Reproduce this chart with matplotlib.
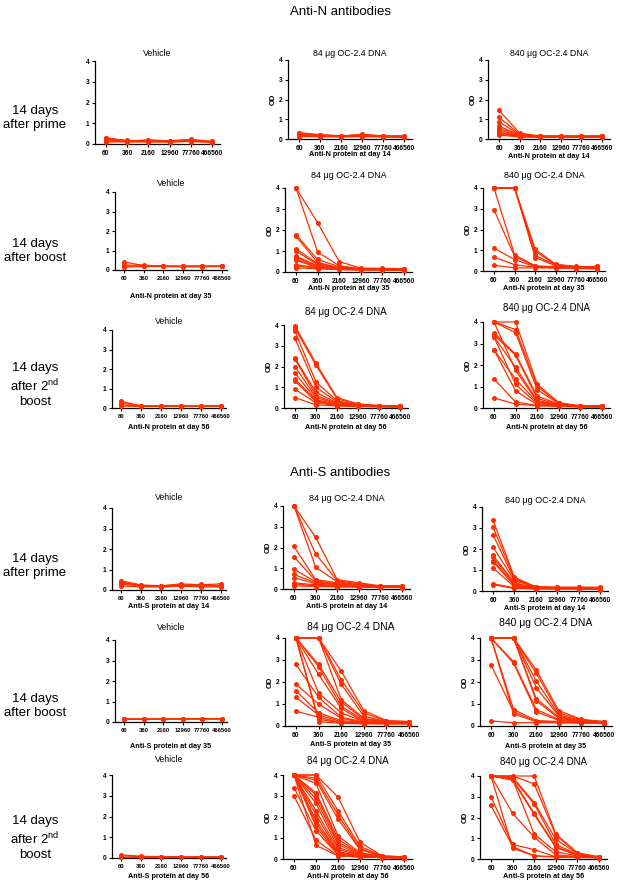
import matplotlib
matplotlib.use('Agg')
import matplotlib.pyplot as plt

plt.rcParams['font.family'] = ['Liberation Sans', 'DejaVu Sans']

# ---------------- data ----------------
dilutions = ['60', '360', '2160', '12960', '77760', '466560']
y_ticks = [0, 1, 2, 3, 4]
group_titles = ['Vehicle', '84 μg OC-2.4 DNA', '840 μg OC-2.4 DNA']
section_titles = ['Anti-N antibodies', 'Anti-S antibodies']
row_labels = ['14 days\nafter prime', '14 days\nafter boost', '14 days\nafter 2$^{\\mathregular{nd}}$\nboost',
              '14 days\nafter prime', '14 days\nafter boost', '14 days\nafter 2$^{\\mathregular{nd}}$\nboost']
x_labels = [
    [None, 'Anti-N protein at day 14', 'Anti-N protein at day 14'],
    ['Anti-N protein at day 35', 'Anti-N protein at day 35', 'Anti-N protein at day 35'],
    ['Anti-N protein at day 56', 'Anti-N protein at day 56', 'Anti-N protein at day 56'],
    ['Anti-S protein at day 14', 'Anti-S protein at day 14', 'Anti-S protein at day 14'],
    ['Anti-S protein at day 35', 'Anti-S protein at day 35', 'Anti-S protein at day 35'],
    ['Anti-S protein at day 56', 'Anti-N protein at day 56', 'Anti-S protein at day 56'],
]

n14_vehicle = [
    [0.30, 0.15, 0.18, 0.14, 0.20, 0.10],
    [0.25, 0.15, 0.15, 0.12, 0.18, 0.10],
    [0.20, 0.13, 0.20, 0.15, 0.16, 0.12],
    [0.15, 0.12, 0.12, 0.10, 0.14, 0.09],
    [0.10, 0.10, 0.10, 0.10, 0.12, 0.08],
    [0.28, 0.17, 0.14, 0.16, 0.22, 0.13],
]
n14_84 = [
    [0.32, 0.22, 0.16, 0.22, 0.16, 0.15],
    [0.28, 0.20, 0.15, 0.20, 0.15, 0.12],
    [0.22, 0.18, 0.13, 0.18, 0.13, 0.10],
    [0.18, 0.15, 0.12, 0.15, 0.12, 0.10],
    [0.12, 0.12, 0.10, 0.12, 0.10, 0.08],
    [0.25, 0.20, 0.14, 0.24, 0.14, 0.16],
]
n14_840 = [
    [1.45, 0.30, 0.15, 0.15, 0.15, 0.16],
    [1.10, 0.25, 0.15, 0.15, 0.15, 0.15],
    [0.87, 0.22, 0.14, 0.14, 0.14, 0.14],
    [0.65, 0.20, 0.13, 0.13, 0.13, 0.13],
    [0.55, 0.18, 0.12, 0.12, 0.12, 0.12],
    [0.45, 0.16, 0.12, 0.12, 0.12, 0.12],
    [0.35, 0.15, 0.11, 0.11, 0.11, 0.11],
    [0.30, 0.14, 0.10, 0.10, 0.10, 0.10],
    [0.25, 0.12, 0.10, 0.10, 0.10, 0.10],
    [0.20, 0.10, 0.09, 0.09, 0.09, 0.09],
]
n35_vehicle = [
    [0.42, 0.22, 0.20, 0.20, 0.20, 0.20],
    [0.20, 0.20, 0.18, 0.18, 0.18, 0.18],
    [0.15, 0.18, 0.18, 0.17, 0.17, 0.20],
    [0.25, 0.25, 0.20, 0.20, 0.20, 0.19],
]
n35_84 = [
    [4.00, 2.35, 0.50, 0.18, 0.18, 0.15],
    [4.00, 0.95, 0.30, 0.15, 0.15, 0.12],
    [1.78, 0.60, 0.25, 0.15, 0.15, 0.12],
    [1.70, 0.45, 0.20, 0.14, 0.14, 0.12],
    [1.10, 0.40, 0.20, 0.14, 0.14, 0.12],
    [1.00, 0.35, 0.18, 0.13, 0.13, 0.11],
    [0.75, 0.30, 0.17, 0.13, 0.13, 0.10],
    [0.70, 0.28, 0.15, 0.12, 0.12, 0.10],
    [0.60, 0.25, 0.15, 0.12, 0.12, 0.10],
    [0.55, 0.22, 0.14, 0.12, 0.12, 0.10],
    [0.35, 0.20, 0.13, 0.11, 0.11, 0.10],
    [0.30, 0.18, 0.12, 0.10, 0.10, 0.09],
    [0.20, 0.15, 0.12, 0.10, 0.10, 0.09],
]
n35_840 = [
    [4.00, 4.00, 1.05, 0.32, 0.22, 0.20],
    [4.00, 4.00, 0.95, 0.30, 0.21, 0.19],
    [4.00, 4.00, 0.75, 0.28, 0.20, 0.18],
    [4.00, 4.00, 0.65, 0.25, 0.19, 0.22],
    [4.00, 0.78, 0.25, 0.20, 0.18, 0.22],
    [2.95, 0.70, 0.22, 0.20, 0.18, 0.15],
    [1.10, 0.55, 0.20, 0.18, 0.15, 0.15],
    [0.67, 0.30, 0.18, 0.15, 0.15, 0.12],
    [0.28, 0.15, 0.15, 0.15, 0.12, 0.10],
]
n56_vehicle = [
    [0.35, 0.10, 0.10, 0.10, 0.10, 0.10],
    [0.25, 0.12, 0.10, 0.10, 0.10, 0.10],
    [0.15, 0.10, 0.09, 0.09, 0.09, 0.09],
    [0.10, 0.08, 0.08, 0.08, 0.08, 0.08],
]
n56_84 = [
    [3.95, 2.15, 0.50, 0.20, 0.12, 0.10],
    [3.85, 2.05, 0.45, 0.18, 0.10, 0.10],
    [3.70, 1.25, 0.35, 0.15, 0.10, 0.08],
    [3.35, 1.00, 0.30, 0.15, 0.10, 0.08],
    [2.40, 0.75, 0.25, 0.12, 0.10, 0.08],
    [2.35, 0.60, 0.22, 0.12, 0.08, 0.07],
    [2.00, 0.50, 0.20, 0.10, 0.08, 0.07],
    [1.70, 0.40, 0.18, 0.10, 0.08, 0.07],
    [1.40, 0.35, 0.15, 0.10, 0.07, 0.06],
    [1.30, 0.30, 0.12, 0.09, 0.07, 0.06],
    [0.90, 0.25, 0.12, 0.08, 0.07, 0.06],
    [0.50, 0.15, 0.10, 0.08, 0.06, 0.05],
]
n56_840 = [
    [4.00, 4.00, 1.10, 0.25, 0.10, 0.10],
    [4.00, 3.65, 1.00, 0.22, 0.10, 0.10],
    [4.00, 3.50, 0.85, 0.20, 0.08, 0.08],
    [3.50, 2.50, 0.55, 0.18, 0.08, 0.08],
    [3.40, 2.45, 0.45, 0.15, 0.08, 0.07],
    [3.30, 1.90, 0.35, 0.15, 0.07, 0.07],
    [4.00, 1.75, 0.30, 0.12, 0.07, 0.06],
    [2.70, 1.35, 0.25, 0.12, 0.07, 0.06],
    [3.30, 1.10, 0.20, 0.10, 0.06, 0.06],
    [2.70, 0.80, 0.15, 0.10, 0.06, 0.06],
    [1.35, 0.28, 0.12, 0.10, 0.06, 0.05],
    [0.47, 0.18, 0.10, 0.08, 0.05, 0.05],
]
s14_vehicle = [
    [0.45, 0.25, 0.20, 0.30, 0.25, 0.30],
    [0.40, 0.20, 0.18, 0.22, 0.20, 0.22],
    [0.35, 0.22, 0.15, 0.20, 0.28, 0.20],
    [0.30, 0.18, 0.20, 0.25, 0.22, 0.18],
    [0.20, 0.15, 0.15, 0.18, 0.15, 0.15],
]
s14_84 = [
    [4.00, 2.50, 0.45, 0.30, 0.15, 0.15],
    [4.00, 1.70, 0.40, 0.25, 0.14, 0.15],
    [4.00, 1.05, 0.35, 0.20, 0.13, 0.13],
    [2.05, 0.45, 0.30, 0.20, 0.12, 0.12],
    [1.55, 0.40, 0.25, 0.18, 0.12, 0.12],
    [0.95, 0.35, 0.20, 0.15, 0.10, 0.10],
    [0.70, 0.30, 0.20, 0.15, 0.10, 0.10],
    [0.55, 0.25, 0.15, 0.12, 0.10, 0.10],
    [0.30, 0.20, 0.15, 0.12, 0.10, 0.08],
    [0.25, 0.15, 0.12, 0.10, 0.08, 0.08],
    [0.15, 0.12, 0.10, 0.10, 0.08, 0.07],
]
s14_840 = [
    [3.38, 0.65, 0.20, 0.18, 0.18, 0.18],
    [3.05, 0.60, 0.20, 0.17, 0.17, 0.16],
    [2.68, 0.55, 0.18, 0.16, 0.15, 0.15],
    [2.10, 0.50, 0.17, 0.15, 0.15, 0.12],
    [1.70, 0.40, 0.15, 0.14, 0.14, 0.12],
    [1.60, 0.35, 0.15, 0.13, 0.13, 0.10],
    [1.45, 0.30, 0.13, 0.12, 0.12, 0.10],
    [1.40, 0.25, 0.12, 0.12, 0.12, 0.10],
    [1.10, 0.20, 0.12, 0.11, 0.10, 0.08],
    [0.35, 0.15, 0.10, 0.10, 0.10, 0.08],
    [0.30, 0.12, 0.10, 0.10, 0.10, 0.07],
]
s35_vehicle = [
    [0.15, 0.15, 0.15, 0.16, 0.16, 0.16],
    [0.14, 0.14, 0.14, 0.15, 0.15, 0.15],
    [0.13, 0.13, 0.14, 0.14, 0.14, 0.15],
]
s35_84 = [
    [4.00, 4.00, 2.50, 0.70, 0.25, 0.20],
    [4.00, 4.00, 2.10, 0.60, 0.22, 0.20],
    [4.00, 4.00, 1.90, 0.45, 0.20, 0.18],
    [4.00, 4.00, 1.20, 0.35, 0.20, 0.18],
    [4.00, 2.80, 1.10, 0.30, 0.18, 0.17],
    [4.00, 2.70, 0.90, 0.25, 0.17, 0.15],
    [4.00, 2.35, 0.80, 0.20, 0.15, 0.15],
    [4.00, 1.50, 0.60, 0.20, 0.15, 0.14],
    [2.80, 1.30, 0.40, 0.18, 0.15, 0.14],
    [1.90, 1.00, 0.35, 0.15, 0.13, 0.13],
    [1.60, 0.60, 0.25, 0.15, 0.13, 0.12],
    [1.30, 0.50, 0.20, 0.12, 0.12, 0.12],
    [0.67, 0.40, 0.15, 0.12, 0.12, 0.10],
    [4.00, 0.30, 0.15, 0.12, 0.10, 0.10],
    [4.00, 0.20, 0.12, 0.10, 0.10, 0.10],
]
s35_840 = [
    [4.00, 4.00, 2.55, 0.70, 0.30, 0.20],
    [4.00, 4.00, 2.40, 0.60, 0.28, 0.20],
    [4.00, 4.00, 2.05, 0.50, 0.25, 0.18],
    [4.00, 4.00, 1.75, 0.45, 0.22, 0.17],
    [4.00, 4.00, 1.25, 0.40, 0.20, 0.15],
    [4.00, 4.00, 1.15, 0.35, 0.20, 0.15],
    [4.00, 2.92, 0.75, 0.30, 0.18, 0.15],
    [4.00, 2.85, 0.65, 0.25, 0.17, 0.14],
    [4.00, 0.75, 0.25, 0.20, 0.15, 0.14],
    [2.78, 0.65, 0.20, 0.18, 0.15, 0.13],
    [4.00, 0.55, 0.20, 0.15, 0.13, 0.12],
    [0.23, 0.15, 0.15, 0.15, 0.15, 0.15],
]
s56_vehicle = [
    [0.15, 0.08, 0.07, 0.06, 0.06, 0.05],
    [0.10, 0.07, 0.06, 0.05, 0.05, 0.05],
    [0.05, 0.05, 0.05, 0.05, 0.05, 0.05],
]
s56_84 = [
    [4.00, 4.00, 2.95, 0.80, 0.15, 0.10],
    [4.00, 4.00, 2.30, 0.60, 0.15, 0.10],
    [4.00, 3.85, 2.10, 0.50, 0.12, 0.10],
    [4.00, 3.75, 1.90, 0.45, 0.12, 0.09],
    [4.00, 3.60, 1.10, 0.30, 0.12, 0.09],
    [4.00, 3.15, 0.95, 0.25, 0.10, 0.08],
    [4.00, 3.05, 0.80, 0.25, 0.10, 0.08],
    [4.00, 2.85, 0.70, 0.20, 0.10, 0.08],
    [4.00, 2.65, 0.55, 0.20, 0.10, 0.07],
    [4.00, 2.30, 0.45, 0.18, 0.10, 0.07],
    [4.00, 2.10, 0.35, 0.15, 0.08, 0.07],
    [4.00, 1.85, 0.30, 0.15, 0.08, 0.06],
    [4.00, 1.70, 0.25, 0.12, 0.08, 0.06],
    [4.00, 1.55, 0.20, 0.12, 0.08, 0.06],
    [3.40, 1.35, 0.20, 0.10, 0.07, 0.06],
    [3.00, 0.90, 0.15, 0.10, 0.07, 0.05],
    [4.00, 0.65, 0.15, 0.10, 0.07, 0.05],
]
s56_840 = [
    [4.00, 4.00, 4.00, 1.20, 0.30, 0.10],
    [4.00, 4.00, 3.62, 1.15, 0.28, 0.10],
    [4.00, 3.95, 2.72, 0.95, 0.25, 0.10],
    [4.00, 3.90, 2.65, 0.70, 0.22, 0.09],
    [4.00, 3.85, 2.20, 0.60, 0.20, 0.09],
    [4.00, 3.80, 2.15, 0.55, 0.18, 0.08],
    [4.00, 3.85, 1.20, 0.35, 0.15, 0.08],
    [4.00, 2.20, 1.05, 0.20, 0.12, 0.07],
    [3.00, 0.70, 0.45, 0.10, 0.10, 0.07],
    [2.58, 0.60, 0.15, 0.10, 0.08, 0.06],
    [4.00, 0.52, 0.15, 0.10, 0.08, 0.06],
]

panels = [
    [n14_vehicle, n14_84, n14_840],
    [n35_vehicle, n35_84, n35_840],
    [n56_vehicle, n56_84, n56_840],
    [s14_vehicle, s14_84, s14_840],
    [s35_vehicle, s35_84, s35_840],
    [s56_vehicle, s56_84, s56_840],
]

# ---------------- layout (pixels) ----------------
W, H = 620, 886
RED = '#FF2E00'
# axes boxes: left, right, top(value 4), bottom(value 0)
boxes = [
    [(95, 220, 61, 144), (288, 412, 60, 139), (488, 610, 60, 139)],
    [(115, 227, 192, 270), (285, 412, 188, 272), (483, 605, 188, 271)],
    [(112, 226, 330, 408), (284, 408, 325, 408), (483, 610, 322, 408)],
    [(112, 226, 508, 590), (283, 410, 506, 589), (482, 608, 507, 591)],
    [(115, 227, 640, 722), (285, 417, 638, 726), (480, 612, 638, 726)],
    [(112, 226, 775, 858), (283, 412, 775, 859), (480, 607, 776, 859)],
]
title_y = [[53, 53, 53], [183, 175, 175], [321, 312, 308], [498, 499, 500], [628, 627, 623], [760, 761, 762]]
title_fs = [[6.3, 6.3, 6.3], [6.3, 6.5, 6.5], [6.3, 7.0, 7.0], [6.3, 6.5, 6.5], [6.3, 7.5, 7.5], [6.3, 7.0, 7.0]]
xlabel_y = [[None, 155, 156], [296, 289, 289], [428, 427, 427], [606, 607, 608], [746, 745, 746], [877, 877, 877]]
row_label_y = [118, 251, 385, 566, 706, 838]
section_y = [12, 473]

fig = plt.figure(figsize=(W / 100, H / 100), dpi=100)


def fx(px):
    return px / W


def fy(py):
    return 1 - py / H


for r in range(6):
    for c in range(3):
        l, rr, t, b = boxes[r][c]
        ax = fig.add_axes([fx(l), fy(b), (rr - l) / W, (b - t) / H])
        w = rr - l
        narrow = (c == 0 and r > 0)
        a_pad, b_pad = (9, 5) if narrow else (11, 8)
        s = (w - a_pad - b_pad) / 5.0
        ax.set_xlim(-a_pad / s, 5 + b_pad / s)
        ax.set_ylim(0, 4)
        xs = list(range(len(dilutions)))
        for series in panels[r][c]:
            ax.plot(xs, series, color=RED, lw=0.9, marker='o', ms=2.6,
                    mec=RED, mfc=RED, clip_on=False, zorder=3)
        for sp in ['top', 'right']:
            ax.spines[sp].set_visible(False)
        for sp in ['left', 'bottom']:
            ax.spines[sp].set_linewidth(0.9)
        tfs = 4.2 if narrow else 4.8
        ax.set_xticks(xs)
        ax.set_xticklabels(dilutions, fontsize=tfs, fontweight='bold')
        ax.set_yticks(y_ticks)
        ax.set_yticklabels([str(v) for v in y_ticks], fontsize=4.8, fontweight='bold')
        ax.tick_params(length=2.5, width=0.8, pad=1.5)
        ax.patch.set_alpha(0)
        cx = (l + rr) / 2
        fig.text(fx(cx), fy(title_y[r][c]), group_titles[c], ha='center', va='center',
                 fontsize=title_fs[r][c])
        if x_labels[r][c] is not None:
            fig.text(fx(cx), fy(xlabel_y[r][c]), x_labels[r][c], ha='center', va='center',
                     fontsize=5.2, fontweight='bold')
        if c > 0:
            fig.text(fx(l - 15), fy((t + b) / 2), 'OD', ha='center', va='center',
                     rotation=90, fontsize=5.5, fontweight='bold')

for r in range(6):
    fig.text(fx(35), fy(row_label_y[r]), row_labels[r], ha='center', va='center',
             fontsize=9.5, linespacing=1.25, multialignment='center')

for i, t in enumerate(section_titles):
    fig.text(fx(340), fy(section_y[i]), t, ha='center', va='center', fontsize=9.5)

fig.savefig('out.png', dpi=100)
